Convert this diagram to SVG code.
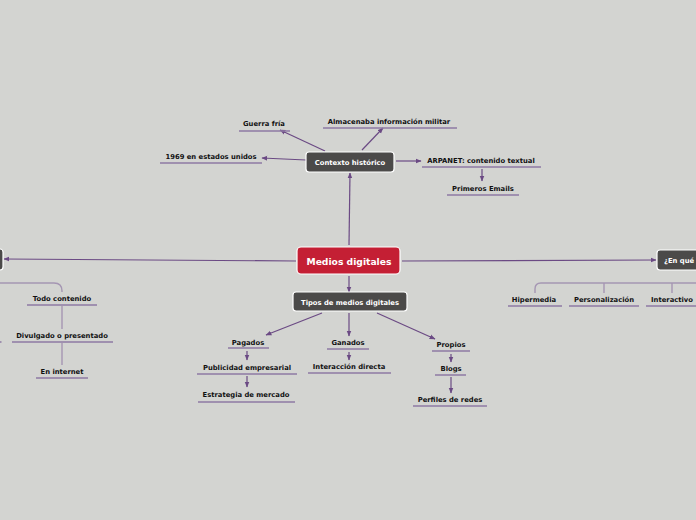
<svg xmlns="http://www.w3.org/2000/svg" width="696" height="520" viewBox="0 0 696 520">
<defs>
<marker id="ah" viewBox="0 0 10 10" refX="9" refY="5" markerWidth="5" markerHeight="5" orient="auto"><path d="M0,1 L10,5 L0,9 Z" fill="#6b4a84"/></marker>
<style>
.c{stroke:#6b4a84;stroke-width:1.2;fill:none}
.l{stroke:#a596b3;stroke-width:1.4;fill:none}
.u{stroke:#8e7aa3;stroke-width:1.5}
.t{font-family:"DejaVu Sans",Verdana,sans-serif;font-weight:bold;font-size:6.8px;fill:#111;text-anchor:middle}
.w{font-family:"DejaVu Sans",Verdana,sans-serif;font-weight:bold;font-size:6.8px;fill:#fff;text-anchor:middle}
.dk{fill:#4b4a49;stroke:#fff;stroke-width:1.2}
</style>
</defs>
<rect width="696" height="520" fill="#d3d4d1"/>
<g id="connectors">
<line class="c" x1="349" y1="245" x2="350" y2="173" marker-end="url(#ah)"/>
<line class="c" x1="325" y1="151" x2="280" y2="130" marker-end="url(#ah)"/>
<line class="c" x1="362" y1="150" x2="383" y2="128" marker-end="url(#ah)"/>
<line class="c" x1="306" y1="160" x2="262" y2="158" marker-end="url(#ah)"/>
<line class="c" x1="396" y1="161" x2="421" y2="161" marker-end="url(#ah)"/>
<line class="c" x1="482" y1="169" x2="482" y2="181" marker-end="url(#ah)"/>
<line class="c" x1="296" y1="261" x2="4" y2="259" marker-end="url(#ah)"/>
<line class="c" x1="402" y1="261" x2="656" y2="260" marker-end="url(#ah)"/>
<line class="c" x1="349" y1="276" x2="349" y2="292" marker-end="url(#ah)"/>
<line class="c" x1="322" y1="313" x2="266" y2="335" marker-end="url(#ah)"/>
<line class="c" x1="349" y1="313" x2="349" y2="336" marker-end="url(#ah)"/>
<line class="c" x1="377" y1="313" x2="435" y2="339" marker-end="url(#ah)"/>
<line class="c" x1="247" y1="351" x2="247" y2="360" marker-end="url(#ah)"/>
<line class="c" x1="247" y1="376" x2="247" y2="387" marker-end="url(#ah)"/>
<line class="c" x1="349" y1="352" x2="349" y2="360" marker-end="url(#ah)"/>
<line class="c" x1="451" y1="354" x2="451" y2="362" marker-end="url(#ah)"/>
<line class="c" x1="451" y1="377" x2="451" y2="393" marker-end="url(#ah)"/>
<path class="l" d="M0,283 L54,283 Q62,283 62,291 L62,292"/>
<path class="l" d="M62,306 L62,329"/>
<path class="l" d="M62,343 L62,365"/>
<path class="l" d="M696,283 L541,283 Q535,283 535,289 L535,293"/>
<path class="l" d="M604,283 L604,293"/>
<path class="l" d="M672,283 L672,293"/>
</g>
<g id="medios-digitales">
<rect x="297" y="247" width="103" height="27" rx="4" fill="#c41f34" stroke="#fff" stroke-width="1.2"/>
<text x="349" y="264.5" class="w" style="font-size:9.2px">Medios digitales</text>
</g>
<g id="contexto-historico">
<rect x="306" y="152" width="88" height="20" rx="3" class="dk"/>
<text x="350" y="164.5" class="w">Contexto histórico</text>
</g>
<g id="guerra-fria"><text x="264" y="126" class="t">Guerra fría</text><line class="u" x1="239" y1="131" x2="290" y2="131"/></g>
<g id="almacenaba"><text x="389" y="124" class="t">Almacenaba información militar</text><line class="u" x1="323" y1="128" x2="457" y2="128"/></g>
<g id="n1969"><text x="211" y="159" class="t">1969 en estados unidos</text><line class="u" x1="160" y1="163" x2="262" y2="163"/></g>
<g id="arpanet"><text x="481" y="163" class="t">ARPANET: contenido textual</text><line class="u" x1="422" y1="167" x2="541" y2="167"/></g>
<g id="primeros-emails"><text x="483" y="191" class="t">Primeros Emails</text><line class="u" x1="447" y1="195" x2="519" y2="195"/></g>
<g id="left-node"><rect x="-20" y="249" width="23" height="21" rx="3" class="dk"/></g>
<g id="en-que">
<rect x="657" y="250" width="60" height="20" rx="3" class="dk"/>
<text x="664" y="262.5" class="w" style="text-anchor:start">¿En qué</text>
</g>
<g id="todo-contenido"><text x="62" y="301" class="t">Todo contenido</text><line class="u" x1="27" y1="305" x2="97" y2="305"/></g>
<g id="divulgado"><text x="62" y="338" class="t">Divulgado o presentado</text><line class="u" x1="12" y1="342" x2="113" y2="342"/></g>
<g id="offscreen-left"><line class="u" x1="0" y1="342" x2="1.5" y2="342"/></g>
<g id="en-internet"><text x="62" y="374" class="t">En internet</text><line class="u" x1="36" y1="378" x2="88" y2="378"/></g>
<g id="hipermedia"><text x="534" y="302" class="t">Hipermedia</text><line class="u" x1="508" y1="306" x2="562" y2="306"/></g>
<g id="personalizacion"><text x="604" y="302" class="t">Personalización</text><line class="u" x1="569" y1="306" x2="639" y2="306"/></g>
<g id="interactivo"><text x="672" y="302" class="t">Interactivo</text><line class="u" x1="646" y1="306" x2="700" y2="306"/></g>
<g id="tipos">
<rect x="293" y="292" width="114" height="19" rx="3" class="dk"/>
<text x="350" y="304.5" class="w">Tipos de medios digitales</text>
</g>
<g id="pagados"><text x="248" y="345" class="t">Pagados</text><line class="u" x1="228" y1="348" x2="269" y2="348"/></g>
<g id="publicidad"><text x="247" y="370" class="t">Publicidad empresarial</text><line class="u" x1="197" y1="374" x2="297" y2="374"/></g>
<g id="estrategia"><text x="246" y="397" class="t">Estrategia de mercado</text><line class="u" x1="198" y1="402" x2="295" y2="402"/></g>
<g id="ganados"><text x="348" y="345" class="t">Ganados</text><line class="u" x1="327" y1="349" x2="369" y2="349"/></g>
<g id="interaccion"><text x="349" y="369" class="t">Interacción directa</text><line class="u" x1="308" y1="373" x2="391" y2="373"/></g>
<g id="propios"><text x="451" y="347" class="t">Propios</text><line class="u" x1="432" y1="351" x2="470" y2="351"/></g>
<g id="blogs"><text x="451" y="371" class="t">Blogs</text><line class="u" x1="435" y1="375" x2="466" y2="375"/></g>
<g id="perfiles"><text x="450" y="402" class="t">Perfiles de redes</text><line class="u" x1="413" y1="406" x2="487" y2="406"/></g>
</svg>
